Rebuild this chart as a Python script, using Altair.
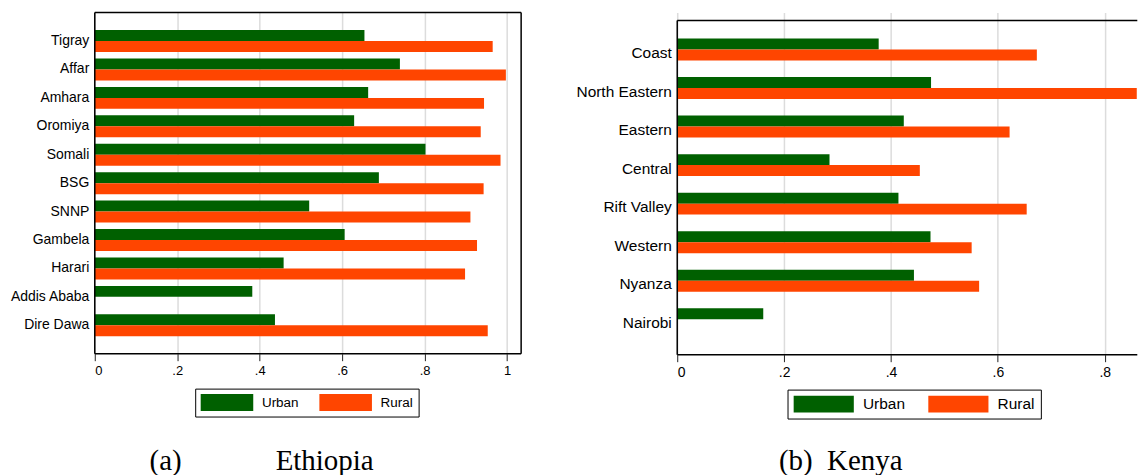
import altair as alt
import pandas as pd

# ---------------- data ----------------
eth_regions = ["Tigray", "Affar", "Amhara", "Oromiya", "Somali", "BSG", "SNNP",
               "Gambela", "Harari", "Addis Ababa", "Dire Dawa"]
eth_urban = [0.654, 0.740, 0.663, 0.629, 0.802, 0.689, 0.520, 0.606, 0.458, 0.382, 0.437]
eth_rural = [0.965, 0.997, 0.944, 0.936, 0.984, 0.943, 0.911, 0.927, 0.898, None, 0.953]

ken_regions = ["Coast", "North Eastern", "Eastern", "Central", "Rift Valley",
               "Western", "Nyanza", "Nairobi"]
ken_urban = [0.377, 0.475, 0.424, 0.285, 0.414, 0.474, 0.443, 0.161]
ken_rural = [0.673, 0.860, 0.622, 0.454, 0.654, 0.551, 0.565, None]

groups = ["Urban", "Rural"]
group_colors = ["#006000", "#ff4500"]
eth_ticks = [0, 0.2, 0.4, 0.6, 0.8, 1]
ken_ticks = [0, 0.2, 0.4, 0.6, 0.8]
captions = ["(a)" + "\u00a0" * 13 + "Ethiopia", "(b)\u00a0\u00a0Kenya"]


def to_long(regions, urban, rural):
    rows = []
    for r, u, v in zip(regions, urban, rural):
        if u is not None:
            rows.append({"region": r, "group": "Urban", "value": u})
        if v is not None:
            rows.append({"region": r, "group": "Rural", "value": v})
    return pd.DataFrame(rows)


LABEL_EXPR = "replace(format(datum.value, '.1~f'), '0.', '.')"
FONT = "Liberation Sans"


def panel(df, regions, ticks, W, H, xmax, pi, po, al, ylab_fs, xlab_fs,
          leg_x, leg_y, sym_w, sym_h, lab_off, col_pad, leg_fs, leg_pad,
          caption, cap_x, cap_y, top_y, right_border):
    ratio = sym_w / sym_h
    path = "M-1,-1H%.3fV1H-1Z" % (2 * ratio - 1)
    bars = alt.Chart(df).mark_bar().encode(
        x=alt.X("value:Q",
                scale=alt.Scale(domain=[0, xmax], nice=False, zero=True),
                axis=alt.Axis(values=ticks, labelExpr=LABEL_EXPR, grid=True,
                              gridColor="#dcdcdc", gridWidth=1.5, domain=False,
                              ticks=True, tickSize=7, tickColor="#222222", tickWidth=1,
                              labelFontSize=xlab_fs, labelFont=FONT, labelColor="black",
                              labelPadding=4, title=None)),
        y=alt.Y("region:N", sort=regions,
                scale=alt.Scale(paddingInner=pi, paddingOuter=po, align=al),
                axis=alt.Axis(title=None, ticks=False, domain=False, grid=False,
                              labelFontSize=ylab_fs, labelFont=FONT, labelColor="black",
                              labelPadding=6)),
        yOffset=alt.YOffset("group:N", sort=groups,
                            scale=alt.Scale(paddingInner=0, paddingOuter=0)),
        color=alt.Color("group:N", sort=groups,
                        scale=alt.Scale(domain=groups, range=group_colors),
                        legend=alt.Legend(title=None, orient="none", legendX=leg_x,
                                          legendY=leg_y, direction="horizontal",
                                          columns=2, columnPadding=col_pad,
                                          symbolType=path, symbolSize=sym_h * sym_h,
                                          symbolStrokeWidth=0, symbolOpacity=1,
                                          labelOffset=lab_off, labelFontSize=leg_fs,
                                          labelFont=FONT, labelColor="black",
                                          strokeColor="black", fillColor="white",
                                          padding=leg_pad, rowPadding=0)),
    )
    one = pd.DataFrame({"k": [0]})
    rule = dict(color="black", strokeWidth=1.5)
    layers = [bars]
    layers.append(alt.Chart(one).mark_rule(**rule).encode(
        x=alt.value(0), x2=alt.value(W), y=alt.value(top_y)))
    layers.append(alt.Chart(one).mark_rule(**rule).encode(
        x=alt.value(0), x2=alt.value(W), y=alt.value(H)))
    layers.append(alt.Chart(one).mark_rule(**rule).encode(
        x=alt.value(0), y=alt.value(top_y), y2=alt.value(H)))
    if right_border:
        layers.append(alt.Chart(one).mark_rule(**rule).encode(
            x=alt.value(W), y=alt.value(top_y), y2=alt.value(H)))
    cap = alt.Chart(pd.DataFrame({"caption": [caption]})).mark_text(
        font="Liberation Serif", fontSize=29, align="left", baseline="alphabetic",
        color="black").encode(x=alt.value(cap_x), y=alt.value(cap_y), text="caption:N")
    layers.append(cap)
    return alt.layer(*layers).properties(width=W, height=H)


eth = panel(to_long(eth_regions, eth_urban, eth_rural), eth_regions, eth_ticks,
            W=427.5, H=342, xmax=1.034, pi=0.228, po=0.614, al=0.5,
            ylab_fs=14, xlab_fs=13,
            leg_x=100.7, leg_y=377, sym_w=52.7, sym_h=17, lab_off=44.4,
            col_pad=20, leg_fs=13.5, leg_pad=5.5,
            caption=captions[0], cap_x=55, cap_y=458.7, top_y=0, right_border=True)

ken = panel(to_long(ken_regions, ken_urban, ken_rural), ken_regions, ken_ticks,
            W=461.3, H=343, xmax=0.861, pi=0.239, po=0.559, al=0.602,
            ylab_fs=15.5, xlab_fs=14,
            leg_x=110.6, leg_y=378, sym_w=60.3, sym_h=16.7, lab_off=52.6,
            col_pad=23, leg_fs=15.5, leg_pad=6,
            caption=captions[1], cap_x=102, cap_y=458.7, top_y=8, right_border=False)

chart = alt.hconcat(eth, ken, spacing=156, bounds="flush").resolve_scale(
    color="independent", x="independent", y="independent"
).resolve_legend(color="independent").configure_view(strokeWidth=0).properties(
    padding={"left": 1, "top": 3, "right": 0, "bottom": 0},
    background="white",
)

chart.save("out.html", embed_options={"renderer": "svg", "actions": False})
